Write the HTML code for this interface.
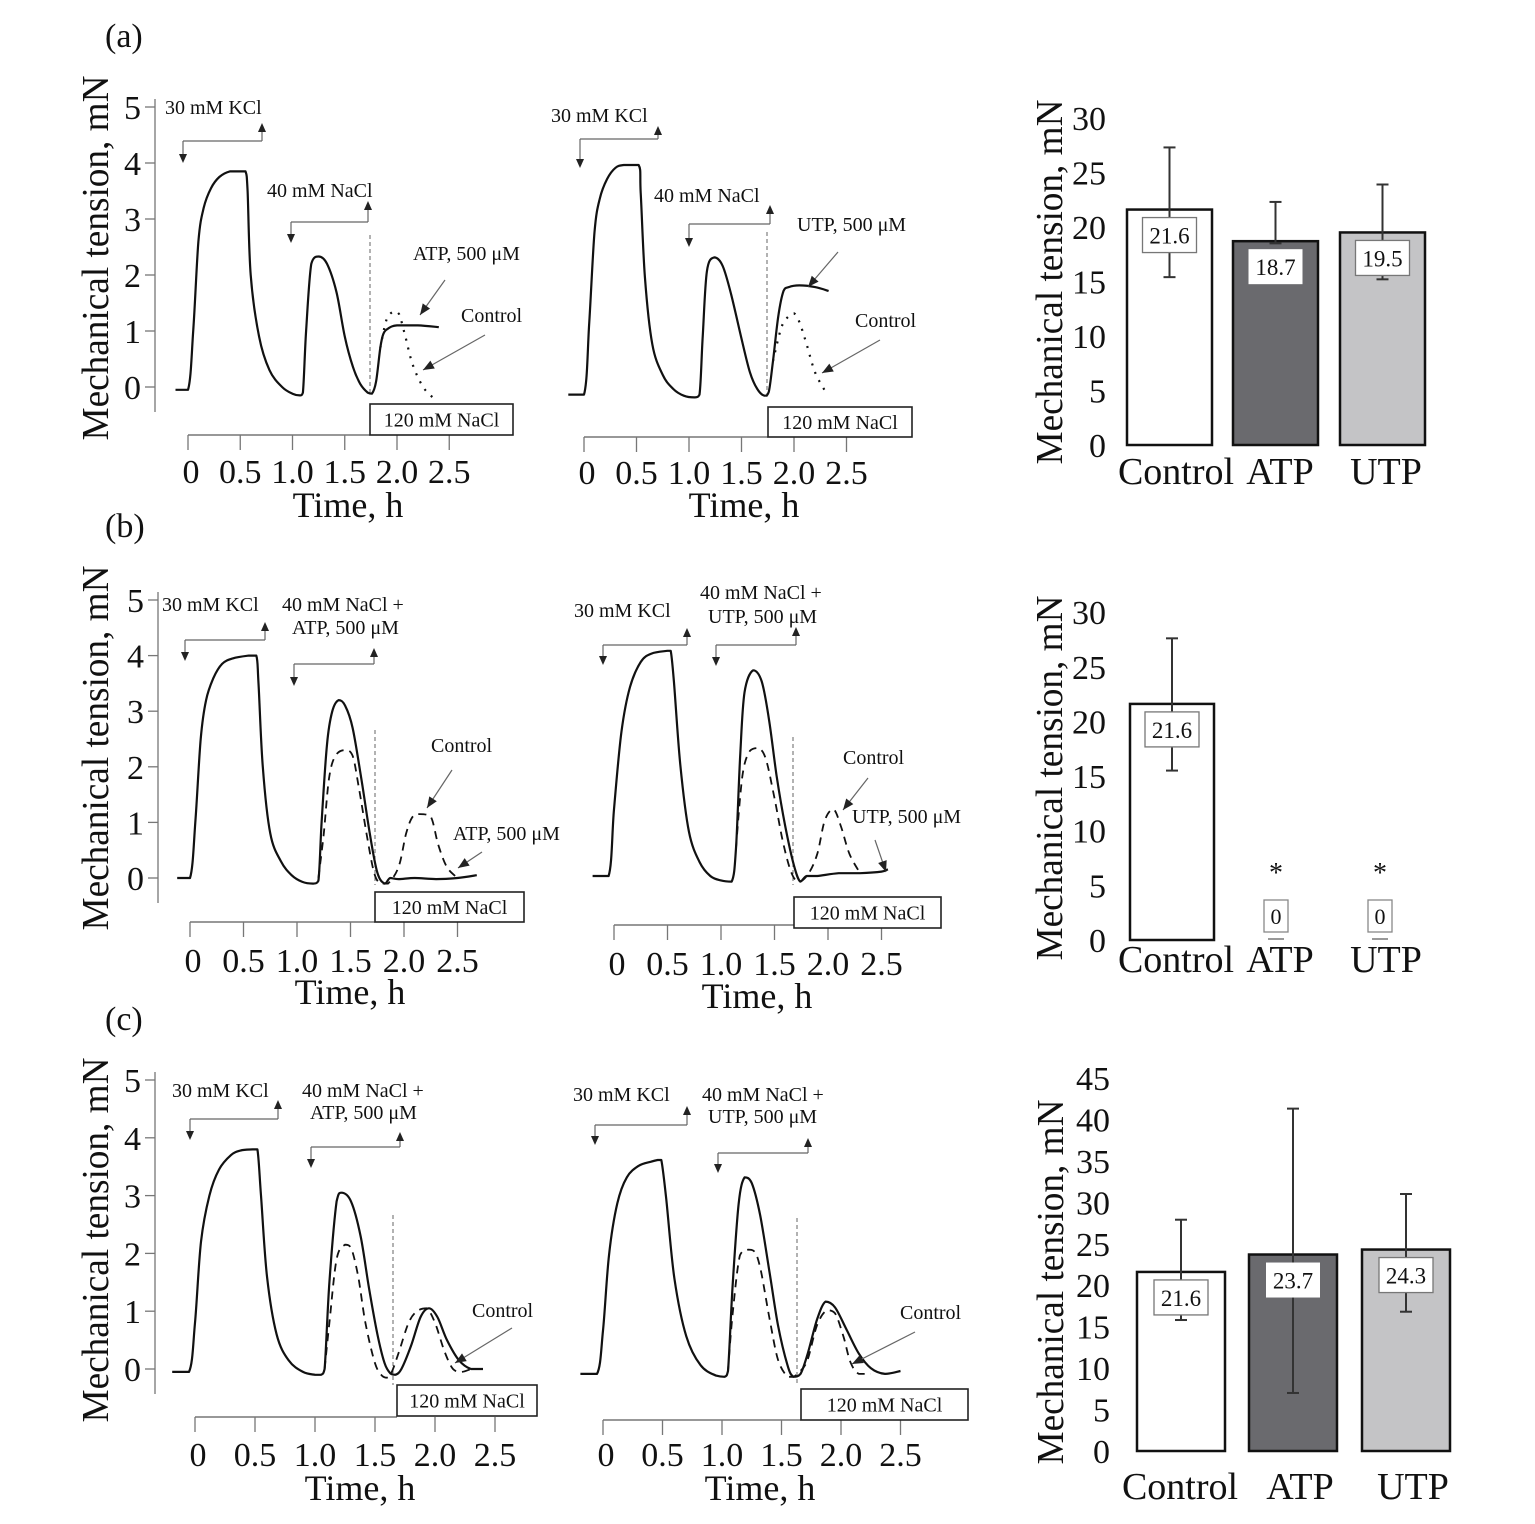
<!DOCTYPE html>
<html><head><meta charset="utf-8"><style>
html,body{margin:0;padding:0;background:#fff;}
svg{display:block;font-family:"Liberation Serif",serif;}
</style></head><body>
<svg id="fig" width="1535" height="1524" viewBox="0 0 1535 1524" xmlns="http://www.w3.org/2000/svg"></svg>
<script>
// ===== trace data (time in h, tension in mN) =====
const a1SolidT=[-0.12,0.0,0.05,0.1,0.15,0.22,0.3,0.4,0.5,0.55,0.57,0.6,0.68,0.78,0.9,1.0,1.07,1.1,1.13,1.18,1.25,1.33,1.42,1.5,1.58,1.65,1.72,1.76,1.8,1.84,1.87,1.92,2.0,2.2,2.4];
const a1SolidV=[-0.05,-0.05,1.0,2.6,3.2,3.55,3.75,3.85,3.85,3.85,3.5,2.0,0.9,0.3,0.0,-0.12,-0.15,-0.1,1.0,2.2,2.33,2.2,1.7,0.9,0.35,0.05,-0.1,-0.12,0.1,0.7,0.95,1.05,1.1,1.1,1.07];
const a1CtrlT=[1.84,1.9,1.97,2.02,2.08,2.15,2.25,2.35];
const a1CtrlV=[0.7,1.2,1.35,1.3,0.9,0.4,0.0,-0.2];
const a2SolidT=[-0.15,0.0,0.05,0.1,0.15,0.22,0.3,0.38,0.52,0.54,0.58,0.65,0.75,0.85,0.95,1.05,1.1,1.13,1.17,1.24,1.32,1.4,1.5,1.58,1.65,1.72,1.76,1.8,1.85,1.9,1.95,2.05,2.2,2.33];
const a2SolidV=[-0.1,-0.1,1.2,2.8,3.4,3.75,3.95,4.0,4.0,3.5,2.0,0.8,0.25,0.0,-0.12,-0.15,-0.1,0.9,2.1,2.35,2.2,1.7,0.9,0.3,0.0,-0.12,-0.05,0.5,1.3,1.75,1.82,1.85,1.82,1.75];
const a2CtrlT=[1.8,1.88,1.95,2.0,2.05,2.12,2.2,2.3];
const a2CtrlV=[0.5,1.1,1.3,1.35,1.2,0.8,0.3,-0.05];
const b1SolidT=[-0.12,0.0,0.05,0.1,0.15,0.22,0.3,0.4,0.55,0.62,0.64,0.68,0.75,0.85,0.95,1.05,1.15,1.2,1.23,1.28,1.33,1.39,1.45,1.52,1.6,1.68,1.75,1.82,1.87,1.95,2.1,2.3,2.5,2.68];
const b1SolidV=[0,0,1.0,2.5,3.2,3.6,3.85,3.95,4.0,4.0,3.5,2.0,0.8,0.3,0.05,-0.07,-0.1,-0.05,1.0,2.4,3.0,3.2,3.1,2.7,1.8,0.8,0.1,-0.1,0.0,-0.02,0.0,-0.02,0.0,0.05];
const b1CtrlT=[1.2,1.25,1.3,1.36,1.45,1.52,1.58,1.65,1.72,1.78,1.85,1.95,2.02,2.08,2.15,2.25,2.32,2.4,2.5];
const b1CtrlV=[0,0.8,1.8,2.2,2.3,2.2,1.6,0.8,0.1,-0.1,-0.1,0.2,0.8,1.1,1.15,1.1,0.6,0.2,0.0];
const b2SolidT=[-0.2,-0.05,0.0,0.07,0.15,0.25,0.35,0.5,0.53,0.56,0.62,0.7,0.8,0.9,1.0,1.1,1.14,1.18,1.22,1.3,1.38,1.45,1.52,1.6,1.68,1.74,1.8,1.9,2.1,2.3,2.5,2.56];
const b2SolidV=[0,0,1.2,2.6,3.4,3.85,4.0,4.05,4.05,3.5,2.0,0.8,0.25,0.0,-0.08,-0.1,0.5,2.2,3.3,3.7,3.5,2.8,1.8,0.9,0.2,-0.1,0.0,0.0,0.05,0.05,0.08,0.12];
const b2CtrlT=[1.14,1.2,1.27,1.35,1.42,1.5,1.58,1.66,1.73,1.82,1.9,1.97,2.05,2.12,2.2,2.3];
const b2CtrlV=[0.5,1.8,2.25,2.3,2.1,1.4,0.6,0.05,-0.1,0.05,0.4,1.0,1.2,0.9,0.4,0.05];
const c1SolidT=[-0.19,-0.05,0.0,0.05,0.12,0.2,0.3,0.38,0.48,0.52,0.55,0.6,0.68,0.78,0.9,1.0,1.05,1.08,1.12,1.18,1.22,1.3,1.38,1.45,1.52,1.58,1.63,1.67,1.72,1.8,1.88,1.95,2.02,2.1,2.2,2.3,2.4];
const c1SolidV=[-0.05,-0.05,0.8,2.2,3.0,3.45,3.7,3.78,3.8,3.8,3.0,1.6,0.6,0.15,-0.05,-0.1,-0.1,0.0,1.5,2.9,3.05,2.9,2.3,1.4,0.6,0.1,-0.08,-0.1,0.0,0.4,0.9,1.05,0.9,0.5,0.15,0.0,0.0];
const c1CtrlT=[1.08,1.12,1.18,1.25,1.3,1.36,1.42,1.5,1.56,1.6,1.64,1.7,1.78,1.85,1.93,2.0,2.08,2.15,2.22,2.3];
const c1CtrlV=[0.0,0.8,1.9,2.15,2.1,1.6,0.8,0.1,-0.12,-0.15,-0.05,0.3,0.8,1.0,1.05,0.8,0.3,0.0,-0.05,0.0];
const c2SolidT=[-0.19,-0.05,0.0,0.05,0.12,0.2,0.3,0.4,0.46,0.49,0.53,0.6,0.7,0.82,0.95,1.02,1.05,1.09,1.14,1.19,1.25,1.32,1.4,1.47,1.55,1.6,1.66,1.72,1.8,1.87,1.95,2.05,2.15,2.25,2.37,2.5];
const c2SolidV=[-0.05,-0.05,0.7,2.0,2.9,3.35,3.55,3.62,3.65,3.65,3.0,1.6,0.6,0.1,-0.08,-0.1,0.0,1.5,2.9,3.35,3.25,2.7,1.7,0.8,0.1,-0.1,-0.05,0.3,0.9,1.2,1.1,0.7,0.3,0.05,-0.05,0.0];
const c2CtrlT=[1.05,1.09,1.15,1.22,1.28,1.33,1.4,1.47,1.55,1.6,1.66,1.72,1.8,1.88,1.95,2.02,2.08,2.15,2.25];
const c2CtrlV=[0.0,1.0,2.0,2.1,2.05,1.7,0.9,0.2,-0.1,-0.1,0.0,0.2,0.8,1.05,1.0,0.6,0.15,-0.05,-0.05];
const timeTicks=[0,0.5,1.0,1.5,2.0,2.5];
const timeTickLabels=["0","0.5","1.0","1.5","2.0","2.5"];
const tensionTicks=[0,1,2,3,4,5];
// ===== bar data =====
const barCategories=["Control","ATP","UTP"];
const barsAValues=[21.6,18.7,19.5];
const barsAErrHi=[27.3,22.3,23.9];
const barsAErrLo=[15.4,18.5,15.2];
const barsBValues=[21.6,0,0];
const barsBErrHi=[27.6,0,0];
const barsBErrLo=[15.5,0,0];
const barsCValues=[21.6,23.7,24.3];
const barsCErrHi=[27.9,41.3,31.0];
const barsCErrLo=[15.8,7.0,16.8];
const barTicksA=[0,5,10,15,20,25,30];
const barTicksC=[0,5,10,15,20,25,30,35,40,45];

const NS="http://www.w3.org/2000/svg";
const svg=document.getElementById('fig');
function mk(tag,attrs,parent){const e=document.createElementNS(NS,tag);for(const k in attrs)e.setAttribute(k,attrs[k]);(parent||svg).appendChild(e);return e;}
function line(x1,y1,x2,y2,name,w,col,dash){const e=mk('line',{x1:x1,y1:y1,x2:x2,y2:y2,stroke:col||'#555','stroke-width':w||1.3});if(dash)e.setAttribute('stroke-dasharray',dash);


return e;}
function text(x,y,s,size,name,anchor,extra){const e=mk('text',{x:x,y:y,'font-size':size,'text-anchor':anchor||'start',fill:'#111'});if(extra)for(const k in extra)e.setAttribute(k,extra[k]);e.textContent=s;


return e;}
function arrowHead(x,y,dir,name){const d=dir==='down'?`M${x-4},${y-9} L${x+4},${y-9} L${x},${y} Z`:`M${x-4},${y+9} L${x+4},${y+9} L${x},${y} Z`;const e=mk('path',{d:d,fill:'#222'});

}
function pointer(x1,y1,x2,y2,name){line(x1,y1,x2,y2,name,1.2,'#666');const a=Math.atan2(y2-y1,x2-x1),L=11,W=4.5;const bx=x2-L*Math.cos(a),by=y2-L*Math.sin(a);const e=mk('path',{d:`M${x2},${y2} L${bx-W*Math.sin(a)},${by+W*Math.cos(a)} L${bx+W*Math.sin(a)},${by-W*Math.cos(a)} Z`,fill:'#222'});

}
function bracket(xd,yd,xu,yu,yh,name){line(xd,yh,xu,yh,name,1.2,'#666');line(xd,yh,xd,yd-8,name+'-down',1.2,'#666');arrowHead(xd,yd,'down',name+'-down-head');line(xu,yh,xu,yu+8,name+'-up',1.2,'#666');arrowHead(xu,yu,'up',name+'-up-head');}
function clamp(v,a,b){const lo=Math.min(a,b),hi=Math.max(a,b);return Math.max(lo,Math.min(hi,v));}
function smooth(p){let d=`M${p[0][0].toFixed(1)},${p[0][1].toFixed(1)}`;for(let i=0;i<p.length-1;i++){const p0=p[i-1]||p[i],p1=p[i],p2=p[i+1],p3=p[i+2]||p2;const c1x=p1[0]+(p2[0]-p0[0])/6,c2x=p2[0]-(p3[0]-p1[0])/6;const c1y=clamp(p1[1]+(p2[1]-p0[1])/6,p1[1],p2[1]),c2y=clamp(p2[1]-(p3[1]-p1[1])/6,p1[1],p2[1]);d+=` C${c1x.toFixed(1)},${c1y.toFixed(1)} ${c2x.toFixed(1)},${c2y.toFixed(1)} ${p2[0].toFixed(1)},${p2[1].toFixed(1)}`;}return d;}

// ===== trace panels =====
function tracePanel(P){
  const X=t=>P.x0+t*P.kx, Y=v=>P.y0-v*P.ky;
  if(P.yAxisX){line(P.yAxisX,Y(5)-8,P.yAxisX,Y(0)+25,P.id+'-y-axis',1.3,'#777');
    tensionTicks.forEach(v=>{line(P.yAxisX-10,Y(v),P.yAxisX,Y(v),P.id+'-y-tick-'+v,1.3,'#777');text(P.yAxisX-14,Y(v)+12,String(v),34,P.id+'-y-tick-label-'+v,'end');});
    text(0,0,'Mechanical tension, mN',38,P.id+'-y-axis-title','middle',{transform:`translate(${P.titleX},${P.titleY}) rotate(-90)`,textLength:365,lengthAdjust:'spacingAndGlyphs'});}
  line(X(0),P.axisY,P.axisEnd,P.axisY,P.id+'-x-axis',1.5,'#777');
  timeTicks.forEach((t,i)=>{line(X(t),P.axisY,X(t),P.axisY+15,P.id+'-x-tick-'+i,1.3,'#777');text(X(t)+(i===0?3:0),P.tickY,timeTickLabels[i],34,P.id+'-x-tick-label-'+i,'middle');});
  text(P.timeX,P.timeLabelY,'Time, h',36,P.id+'-x-axis-title','middle');
  line(P.vx,P.vy1,P.vx,P.vy2,P.id+'-washout-marker',1,'#666','4,3');
  const s=mk('path',{d:smooth(P.ctrlT.map((t,i)=>[X(t),Y(P.ctrlV[i])])),fill:'none',stroke:'#111','stroke-width':P.dotted?2.2:1.8,'stroke-dasharray':P.dotted?'2,7':'8,6'});
  
  
  const m=mk('path',{d:smooth(P.solidT.map((t,i)=>[X(t),Y(P.solidV[i])])),fill:'none',stroke:'#111','stroke-width':2.2,'stroke-linejoin':'round'});
  
  
  const b=mk('rect',{x:P.box[0],y:P.box[1],width:P.box[2],height:P.box[3],fill:'#fff',stroke:'#222','stroke-width':1.6});
  
  
  text(P.box[0]+P.box[2]/2,P.box[1]+P.box[3]/2+7,'120 mM NaCl',20,P.id+'-nacl-120-label','middle');
}
const panels=[
 {id:'a1',x0:188,kx:104.5,y0:387,ky:56,yAxisX:155,titleX:108,titleY:258,axisY:435,axisEnd:370,tickY:483,timeX:348,timeLabelY:517,vx:370,vy1:235,vy2:395,box:[370,404,143,31],solidT:a1SolidT,solidV:a1SolidV,ctrlT:a1CtrlT,ctrlV:a1CtrlV,dotted:true},
 {id:'a2',x0:584,kx:105,y0:389,ky:56,axisY:437,axisEnd:768,tickY:484,timeX:744,timeLabelY:517,vx:767,vy1:232,vy2:400,box:[768,407,144,30],solidT:a2SolidT,solidV:a2SolidV,ctrlT:a2CtrlT,ctrlV:a2CtrlV,dotted:true},
 {id:'b1',x0:190,kx:107,y0:878,ky:55.6,yAxisX:158,titleX:108,titleY:748,axisY:922,axisEnd:375,tickY:972,timeX:350,timeLabelY:1004,vx:375,vy1:730,vy2:885,box:[375,892,149,30],solidT:b1SolidT,solidV:b1SolidV,ctrlT:b1CtrlT,ctrlV:b1CtrlV},
 {id:'b2',x0:614,kx:107,y0:876,ky:55.6,axisY:925,axisEnd:794,tickY:975,timeX:757,timeLabelY:1008,vx:793,vy1:737,vy2:885,box:[794,897,147,31],solidT:b2SolidT,solidV:b2SolidV,ctrlT:b2CtrlT,ctrlV:b2CtrlV},
 {id:'c1',x0:195,kx:120,y0:1369,ky:57.8,yAxisX:155,titleX:108,titleY:1240,axisY:1417,axisEnd:397,tickY:1466,timeX:360,timeLabelY:1500,vx:393,vy1:1215,vy2:1385,box:[397,1385,140,31],solidT:c1SolidT,solidV:c1SolidV,ctrlT:c1CtrlT,ctrlV:c1CtrlV},
 {id:'c2',x0:603,kx:119,y0:1371,ky:57.8,axisY:1420,axisEnd:801,tickY:1466,timeX:760,timeLabelY:1500,vx:797,vy1:1218,vy2:1385,box:[801,1389,167,31],solidT:c2SolidT,solidV:c2SolidV,ctrlT:c2CtrlT,ctrlV:c2CtrlV}
];
panels.forEach(tracePanel);

// annotations
text(105,47,'(a)',34,'panel-label-a');
text(105,537,'(b)',34,'panel-label-b');
text(105,1030,'(c)',34,'panel-label-c');
// a1
text(165,114,'30 mM KCl',20,'a1-kcl-label');bracket(183,163,262,123,141,'a1-kcl-bracket');
text(267,197,'40 mM NaCl',20,'a1-nacl-label');bracket(291,243,368,201,222,'a1-nacl-bracket');
text(413,260,'ATP, 500 μM',20,'a1-atp-label');pointer(445,280,420,315,'a1-atp-pointer');
text(461,322,'Control',20,'a1-control-label');pointer(485,335,423,370,'a1-control-pointer');
// a2
text(551,122,'30 mM KCl',20,'a2-kcl-label');bracket(580,168,658,126,139,'a2-kcl-bracket');
text(654,202,'40 mM NaCl',20,'a2-nacl-label');bracket(689,247,770,205,224,'a2-nacl-bracket');
text(797,231,'UTP, 500 μM',20,'a2-utp-label');pointer(838,252,808,287,'a2-utp-pointer');
text(855,327,'Control',20,'a2-control-label');pointer(880,340,822,373,'a2-control-pointer');
// b1
text(162,611,'30 mM KCl',20,'b1-kcl-label');text(282,611,'40 mM NaCl +',20,'b1-nacl-label');text(292,634,'ATP, 500 μM',20,'b1-atp-label2');
bracket(185,661,265,622,640,'b1-kcl-bracket');bracket(294,686,374,648,664,'b1-nacl-bracket');
text(431,752,'Control',20,'b1-control-label');pointer(452,770,427,808,'b1-control-pointer');
text(453,840,'ATP, 500 μM',20,'b1-atp-label');pointer(482,852,458,868,'b1-atp-pointer');
// b2
text(574,617,'30 mM KCl',20,'b2-kcl-label');text(700,599,'40 mM NaCl +',20,'b2-nacl-label');text(708,623,'UTP, 500 μM',20,'b2-utp-label2');
bracket(603,665,687,628,645,'b2-kcl-bracket');bracket(716,666,796,627,645,'b2-nacl-bracket');
text(843,764,'Control',20,'b2-control-label');pointer(868,778,843,810,'b2-control-pointer');
text(852,823,'UTP, 500 μM',20,'b2-utp-label');pointer(875,840,886,872,'b2-utp-pointer');
// c1
text(172,1097,'30 mM KCl',20,'c1-kcl-label');text(302,1097,'40 mM NaCl +',20,'c1-nacl-label');text(310,1119,'ATP, 500 μM',20,'c1-atp-label');
bracket(190,1140,278,1100,1119,'c1-kcl-bracket');bracket(311,1168,400,1132,1147,'c1-nacl-bracket');
text(472,1317,'Control',20,'c1-control-label');pointer(512,1328,455,1363,'c1-control-pointer');
// c2
text(573,1101,'30 mM KCl',20,'c2-kcl-label');text(702,1101,'40 mM NaCl +',20,'c2-nacl-label');text(708,1123,'UTP, 500 μM',20,'c2-utp-label');
bracket(595,1145,687,1106,1125,'c2-kcl-bracket');bracket(718,1173,808,1138,1153,'c2-nacl-bracket');
text(900,1319,'Control',20,'c2-control-label');pointer(915,1332,852,1364,'c2-control-pointer');

// ===== bar panels =====
const barFills=['#ffffff','#6a6a6e','#c4c4c6'];
function barPanel(B){
  const Y=v=>B.y0-v*B.k;
  B.ticks.forEach(v=>text(B.tickX,Y(v)+12,String(v),34,B.id+'-y-tick-label-'+v,'end'));
  text(0,0,'Mechanical tension, mN',38,B.id+'-y-axis-title','middle',{transform:`translate(${B.titleX},${B.titleY}) rotate(-90)`,textLength:365,lengthAdjust:'spacingAndGlyphs'});
  B.values.forEach((v,i)=>{
    const x=B.xs[i],w=B.w,cx=x+w/2;
    if(v>0){const r=mk('rect',{x:x,y:Y(v),width:w,height:Y(0)-Y(v),fill:barFills[i],stroke:'#111','stroke-width':2.5});
      
      
      line(cx,Y(B.hi[i]),cx,Y(B.lo[i]),B.id+'-error-bar-'+i,2,'#333');
      line(cx-6,Y(B.hi[i]),cx+6,Y(B.hi[i]),B.id+'-error-cap-hi-'+i,2,'#333');
      line(cx-6,Y(B.lo[i]),cx+6,Y(B.lo[i]),B.id+'-error-cap-lo-'+i,2,'#333');
      const bx=mk('rect',{x:cx-27,y:Y(v)+8,width:54,height:35,fill:'#fff',stroke:i===1?'none':'#777','stroke-width':1.3});
      
      
      text(cx,Y(v)+34,v.toFixed(1),23,B.id+'-value-label-'+i,'middle');
    } else {
      line(cx-8,Y(0)-1,cx+8,Y(0)-1,B.id+'-zero-bar-'+i,2,'#999');
      const bx=mk('rect',{x:cx-12,y:Y(0)-40,width:24,height:32,fill:'#fff',stroke:'#888','stroke-width':1.3});
      
      
      text(cx,Y(0)-16,String(v),22,B.id+'-value-label-'+i,'middle');
      text(cx,Y(0)-58,'*',28,B.id+'-significance-'+i,'middle');
    }
    text(B.catX[i],B.catY,barCategories[i],38,B.id+'-category-label-'+i,'middle');
  });
}
barPanel({id:'a3',y0:445,k:10.9,ticks:barTicksA,tickX:1106,titleX:1062,titleY:282,xs:[1127,1233,1340],w:85,values:barsAValues,hi:barsAErrHi,lo:barsAErrLo,catX:[1176,1280,1386],catY:484});
barPanel({id:'b3',y0:940,k:10.93,ticks:barTicksA,tickX:1106,titleX:1062,titleY:778,xs:[1130,1234,1338],w:84,values:barsBValues,hi:barsBErrHi,lo:barsBErrLo,catX:[1176,1280,1386],catY:972});
barPanel({id:'c3',y0:1451,k:8.29,ticks:barTicksC,tickX:1110,titleX:1063,titleY:1282,xs:[1137,1249,1362],w:88,values:barsCValues,hi:barsCErrHi,lo:barsCErrLo,catX:[1180,1300,1413],catY:1499});
</script>
</body></html>
